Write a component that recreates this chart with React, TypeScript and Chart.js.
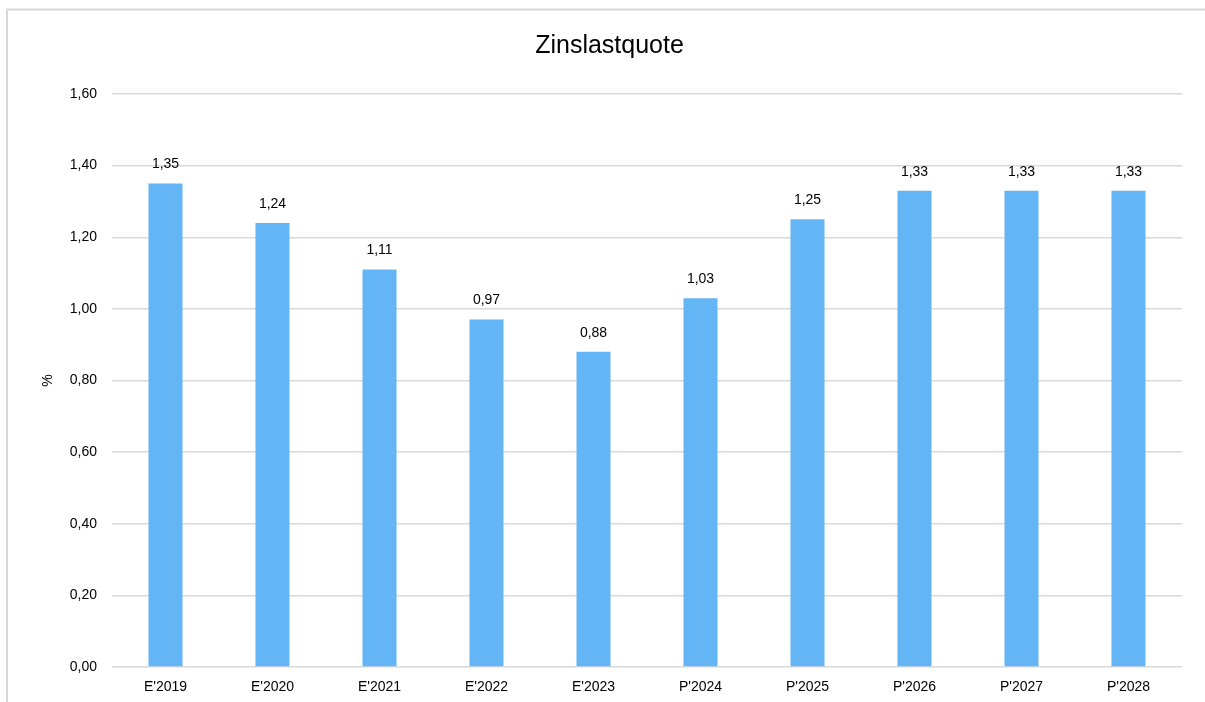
import React, { useEffect, useRef } from "react";
import { Chart, registerables } from "chart.js";

Chart.register(...registerables);

const categories = ["E'2019", "E'2020", "E'2021", "E'2022", "E'2023", "P'2024", "P'2025", "P'2026", "P'2027", "P'2028"];
const values = [1.35, 1.24, 1.11, 0.97, 0.88, 1.03, 1.25, 1.33, 1.33, 1.33];
const chartTitle = "Zinslastquote";
const yAxisTitle = "%";

const FONT = "'Liberation Sans', Arial, sans-serif";
const fmt = (v: number) => v.toFixed(2).replace(".", ",");

const borderPlugin = {
  id: "frameBorder",
  beforeDraw(chart: any) {
    const ctx = chart.ctx;
    ctx.save();
    ctx.strokeStyle = "#d9d9d9";
    ctx.lineWidth = 2;
    ctx.beginPath();
    ctx.moveTo(7, chart.height);
    ctx.lineTo(7, 9.5);
    ctx.lineTo(chart.width, 9.5);
    ctx.stroke();
    ctx.restore();
  },
};

const labelPlugin = {
  id: "valueLabels",
  afterDatasetsDraw(chart: any) {
    const ctx = chart.ctx;
    const meta = chart.getDatasetMeta(0);
    ctx.save();
    ctx.font = `14px ${FONT}`;
    ctx.fillStyle = "#000000";
    ctx.textAlign = "center";
    ctx.textBaseline = "middle";
    meta.data.forEach((bar: any, i: number) => {
      ctx.fillText(fmt(values[i]), bar.x, bar.y - 19);
    });
    ctx.restore();
  },
};

export default function App() {
  const ref = useRef<HTMLCanvasElement>(null);
  useEffect(() => {
    const chart = new Chart(ref.current!, {
      type: "bar",
      data: {
        labels: categories,
        datasets: [
          {
            data: values,
            backgroundColor: "#64B5F6",
            categoryPercentage: 1,
            barPercentage: 0.318,
          },
        ],
      },
      options: {
        animation: false,
        responsive: false,
        devicePixelRatio: 1,
        layout: { padding: { left: 37, right: 23, top: 0, bottom: 0 } },
        plugins: {
          legend: { display: false },
          tooltip: { enabled: false },
          title: {
            display: true,
            text: chartTitle,
            color: "#000000",
            font: { family: FONT, size: 25, weight: "normal" },
            padding: { top: 31, bottom: 33 },
          },
        },
        scales: {
          x: {
            grid: { display: false, drawTicks: false },
            border: { display: false },
            ticks: { color: "#000000", font: { family: FONT, size: 14 }, padding: 12, maxRotation: 0, autoSkip: false },
            afterFit(scale: any) {
              scale.height = 35;
            },
          },
          y: {
            min: 0,
            max: 1.6,
            ticks: {
              stepSize: 0.2,
              padding: 15,
              color: "#000000",
              font: { family: FONT, size: 14 },
              callback: (v: any) => fmt(Number(v)),
            },
            grid: { color: "#d9d9d9", lineWidth: 1.5, drawTicks: false },
            border: { display: false },
            title: {
              display: true,
              text: yAxisTitle,
              color: "#000000",
              font: { family: FONT, size: 14 },
              padding: { top: 3, bottom: 0 },
            },
            afterFit(scale: any) {
              scale.width = 75;
            },
          },
        },
      },
      plugins: [borderPlugin, labelPlugin],
    } as any);
    return () => chart.destroy();
  }, []);
  return (
    <canvas
      ref={ref}
      width={1205}
      height={702}
      style={{ position: "fixed", left: 0, top: 0, width: 1205, height: 702 }}
    />
  );
}
